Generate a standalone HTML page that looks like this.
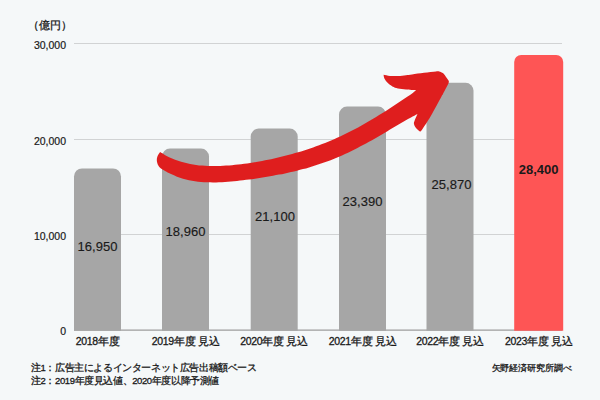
<!DOCTYPE html>
<html lang="ja"><head><meta charset="utf-8">
<style>
html,body{margin:0;padding:0;}
body{width:600px;height:400px;overflow:hidden;background:#f5f8f9;position:relative;font-family:"Liberation Sans",sans-serif;color:#1a1a1a;}
.t{position:absolute;white-space:nowrap;line-height:1;-webkit-text-stroke:0.3px #1a1a1a;}
.yl{font-size:10.5px;text-align:right;width:60px;left:6px;-webkit-text-stroke:0.2px #1a1a1a;}
.v{font-size:13px;text-align:center;width:80px;-webkit-text-stroke:0.15px #1a1a1a;}
.x{font-size:10.5px;text-align:center;width:100px;letter-spacing:-0.3px;}
.n{font-size:9.5px;letter-spacing:-0.4px;}
svg{position:absolute;left:0;top:0;}
</style></head><body>
<svg width="600" height="400" viewBox="0 0 600 400">
<defs><clipPath id="c"><rect x="0" y="0" width="600" height="330.8"/></clipPath></defs>
<g fill="#d1d3d4">
<rect x="74" y="43" width="488" height="1"/>
<rect x="74" y="139" width="488" height="1"/>
<rect x="74" y="234" width="488" height="1"/>
<rect x="74" y="329.4" width="488" height="1.5" fill="#acacac"/>
</g>
<g clip-path="url(#c)">
<rect x="74" y="168.4" width="47" height="170.6" rx="8" fill="#a6a6a6"/>
<rect x="162" y="148.6" width="47" height="190.4" rx="8" fill="#a6a6a6"/>
<rect x="250.7" y="128.6" width="47" height="210.4" rx="8" fill="#a6a6a6"/>
<rect x="339" y="106.6" width="47" height="232.4" rx="8" fill="#a6a6a6"/>
<rect x="426.5" y="82.8" width="47" height="256.2" rx="8" fill="#a6a6a6"/>
<rect x="514.2" y="55" width="49" height="284" rx="7" fill="#fe5555"/>
</g>
<path d="M160.1,152.1 C161.1,152.7 164.1,154.6 166.1,155.7 C168.1,156.8 170.1,157.7 172.1,158.5 C174.1,159.4 176.1,160.2 178.1,160.8 C180.1,161.5 182.1,162.1 184.1,162.6 C186.1,163.1 188.1,163.6 190.1,164.0 C192.1,164.4 194.1,164.7 196.1,164.9 C198.1,165.2 200.1,165.4 202.1,165.6 C204.1,165.7 206.1,165.9 208.1,165.9 C210.1,166.0 212.1,166.0 214.1,166.0 C216.1,166.0 218.1,166.0 220.1,165.9 C222.1,165.9 224.1,165.8 226.1,165.6 C228.1,165.5 230.1,165.3 232.1,165.2 C234.1,165.0 236.1,164.8 238.1,164.6 C240.1,164.3 242.1,164.1 244.1,163.8 C246.1,163.5 248.1,163.3 250.1,163.0 C252.1,162.6 254.1,162.3 256.1,162.0 C258.1,161.6 260.1,161.3 262.1,160.9 C264.1,160.5 266.1,160.1 268.1,159.7 C270.1,159.3 272.1,158.9 274.1,158.4 C276.1,158.0 278.1,157.5 280.1,157.1 C282.1,156.6 284.1,156.1 286.1,155.6 C288.1,155.1 290.1,154.5 292.1,154.0 C294.1,153.4 296.1,152.8 298.1,152.3 C300.1,151.7 302.1,151.1 304.1,150.4 C306.1,149.8 308.1,149.1 310.1,148.4 C312.1,147.8 314.1,147.1 316.1,146.3 C318.1,145.6 320.1,144.9 322.1,144.1 C324.1,143.3 326.1,142.5 328.1,141.7 C330.1,140.9 332.1,140.0 334.1,139.2 C336.1,138.3 338.1,137.4 340.1,136.5 C342.1,135.5 344.1,134.6 346.1,133.6 C348.1,132.6 350.1,131.6 352.1,130.6 C354.1,129.5 356.1,128.5 358.1,127.4 C360.1,126.3 362.1,125.2 364.1,124.1 C366.1,122.9 368.1,121.8 370.1,120.6 C372.1,119.4 374.1,118.2 376.1,117.0 C378.1,115.8 380.1,114.5 382.1,113.3 C384.1,112.0 386.1,110.7 388.1,109.4 C390.1,108.1 392.1,106.8 394.1,105.5 C396.1,104.2 398.1,102.9 400.1,101.5 C402.1,100.2 404.1,98.9 406.1,97.5 C408.1,96.2 410.5,94.8 412.1,93.5 C413.8,92.3 415.4,90.6 416.0,90.0 C414.3,89.9 409.0,89.7 406.0,89.4 C403.0,89.1 400.3,88.9 398.0,88.4 C395.7,87.9 394.1,87.3 392.4,86.4 C390.7,85.5 388.9,84.1 387.6,82.8 C386.3,81.5 385.1,79.7 384.4,78.4 C383.7,77.1 383.7,75.4 383.6,74.8 C384.7,75.0 387.6,75.8 390.0,76.0 C392.4,76.2 395.3,76.1 398.0,76.0 C400.7,75.9 403.7,75.5 406.0,75.2 C408.3,74.9 409.0,74.8 412.0,74.4 C415.0,74.0 420.0,73.3 424.0,72.8 C428.0,72.3 433.5,71.6 436.0,71.4 C438.5,71.2 438.0,71.1 439.2,71.4 C440.4,71.7 442.0,72.2 443.2,73.2 C444.4,74.2 445.5,76.3 446.4,77.6 C447.3,78.9 448.5,80.2 448.8,81.2 C449.1,82.2 448.5,83.2 448.4,83.6 C447.5,85.4 443.9,92.2 442.8,94.4 C441.7,96.6 443.5,92.9 441.5,96.5 C439.5,100.1 434.1,110.3 430.8,116.0 C427.5,121.7 423.1,128.1 421.5,130.5 C420.8,130.7 420.8,131.9 420.0,131.5 C419.2,131.1 417.0,129.2 416.0,128.0 C415.0,126.8 414.2,125.2 414.0,124.0 C413.8,122.8 413.9,122.7 414.5,121.0 C415.1,119.3 417.0,115.2 417.5,114.0 C417.4,114.0 418.1,113.7 417.0,114.2 C415.9,114.8 413.0,116.3 411.0,117.4 C409.0,118.4 407.0,119.6 405.0,120.7 C403.0,121.8 401.0,123.0 399.0,124.2 C397.0,125.4 395.0,126.6 393.0,127.8 C391.0,129.0 389.0,130.2 387.0,131.4 C385.0,132.5 383.0,133.7 381.0,134.9 C379.0,136.1 377.0,137.3 375.0,138.4 C373.0,139.6 371.0,140.7 369.0,141.8 C367.0,142.9 365.0,144.0 363.0,145.1 C361.0,146.2 359.0,147.2 357.0,148.2 C355.0,149.3 353.0,150.3 351.0,151.2 C349.0,152.2 347.0,153.1 345.0,154.0 C343.0,155.0 341.0,155.8 339.0,156.7 C337.0,157.6 335.0,158.4 333.0,159.2 C331.0,160.0 329.0,160.7 327.0,161.5 C325.0,162.2 323.0,162.9 321.0,163.6 C319.0,164.3 317.0,165.0 315.0,165.6 C313.0,166.2 311.0,166.8 309.0,167.4 C307.0,168.0 305.0,168.6 303.0,169.1 C301.0,169.6 299.0,170.2 297.0,170.7 C295.0,171.2 293.0,171.6 291.0,172.1 C289.0,172.6 287.0,173.0 285.0,173.4 C283.0,173.8 281.0,174.3 279.0,174.6 C277.0,175.0 275.0,175.4 273.0,175.8 C271.0,176.2 269.0,176.5 267.0,176.8 C265.0,177.2 263.0,177.5 261.0,177.8 C259.0,178.1 257.0,178.4 255.0,178.7 C253.0,179.0 251.0,179.3 249.0,179.6 C247.0,179.8 245.0,180.1 243.0,180.3 C241.0,180.5 239.0,180.8 237.0,181.0 C235.0,181.2 233.0,181.4 231.0,181.5 C229.0,181.7 227.0,181.8 225.0,182.0 C223.0,182.1 221.0,182.2 219.0,182.2 C217.0,182.3 215.0,182.4 213.0,182.4 C211.0,182.4 209.0,182.3 207.0,182.3 C205.0,182.2 203.0,182.1 201.0,181.9 C199.0,181.7 197.0,181.5 195.0,181.2 C193.0,180.9 191.0,180.6 189.0,180.2 C187.0,179.8 185.0,179.3 183.0,178.7 C181.0,178.1 179.0,177.5 177.0,176.7 C175.0,175.9 173.0,175.0 171.0,174.1 C169.0,173.1 166.0,171.4 165.0,170.9 C164.1,170.3 161.0,168.7 159.8,167.5 C158.5,166.3 158.0,165.0 157.5,163.8 C157.0,162.5 156.8,161.2 156.8,160.0 C156.8,158.8 156.9,157.6 157.5,156.2 C158.1,154.9 159.7,152.8 160.1,152.1 Z" fill="#df1e1e"/>
</svg>
<div class="t" style="left:28px;top:19.5px;font-size:11px;">（億円）</div>
<div class="t yl" style="top:39.5px;">30,000</div>
<div class="t yl" style="top:135.5px;">20,000</div>
<div class="t yl" style="top:230.5px;">10,000</div>
<div class="t yl" style="top:326px;">0</div>
<div class="t v" style="left:57.5px;top:240px;">16,950</div>
<div class="t v" style="left:145.5px;top:225px;">18,960</div>
<div class="t v" style="left:235px;top:210px;">21,100</div>
<div class="t v" style="left:322.5px;top:195px;">23,390</div>
<div class="t v" style="left:411.5px;top:178px;">25,870</div>
<div class="t v" style="left:498.7px;top:163px;font-weight:bold;-webkit-text-stroke:0;">28,400</div>
<div class="t x" style="left:47.5px;top:335.5px;">2018年度</div>
<div class="t x" style="left:135.5px;top:335.5px;">2019年度 見込</div>
<div class="t x" style="left:224px;top:335.5px;">2020年度 見込</div>
<div class="t x" style="left:312.5px;top:335.5px;">2021年度 見込</div>
<div class="t x" style="left:400px;top:335.5px;">2022年度 見込</div>
<div class="t x" style="left:488.7px;top:335.5px;">2023年度 見込</div>
<div class="t n" style="left:31px;top:362.5px;">注1：広告主によるインターネット広告出稿額ベース</div>
<div class="t n" style="left:31px;top:376px;">注2：2019年度見込値、2020年度以降予測値</div>
<div class="t n" style="left:491.5px;top:363.5px;font-size:9px;letter-spacing:-0.1px;">矢野経済研究所調べ</div>
</body></html>
